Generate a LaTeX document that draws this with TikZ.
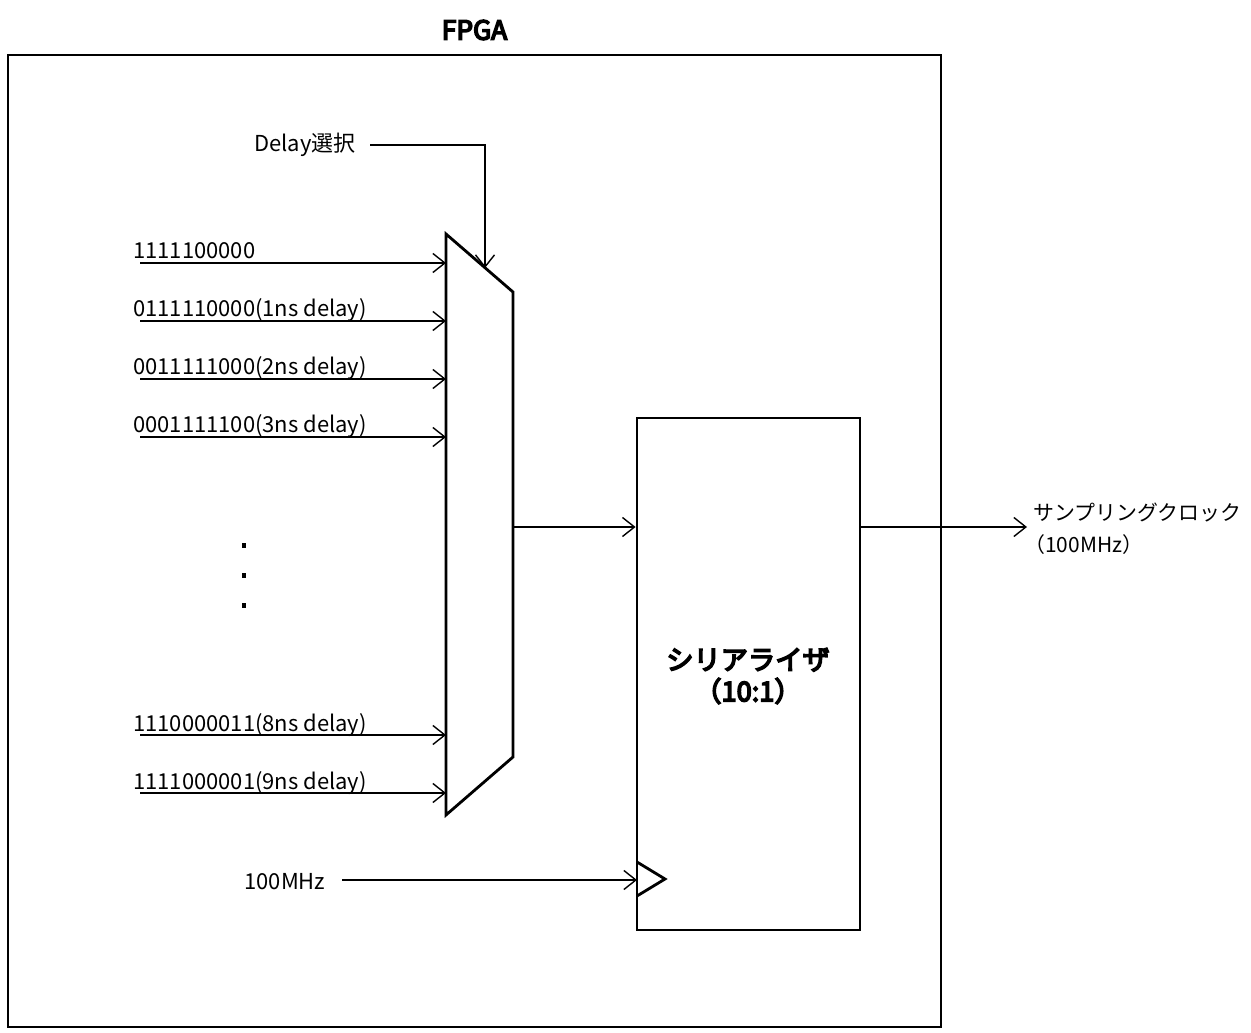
\documentclass[tikz,border=0pt]{standalone}
\usepackage{fontspec}
\setmainfont{Noto Sans CJK JP}
\newcommand\semib[1]{\special{pdf:literal direct 2 Tr 0.9 w}#1\special{pdf:literal direct 0 Tr}}
\usetikzlibrary{arrows.meta,positioning}

\begin{document}
\begin{tikzpicture}[x=0.02cm,y=-0.02cm,>={Straight Barb[length=2.4mm,width=3.8mm]},
boxline/.style={line width=1.6pt},wire/.style={line width=0.8pt},
lbl/.style={font=\fontsize{12.5}{14}\selectfont,inner sep=0pt}]
\useasboundingbox (0,0) rectangle (1251,1033);
\node[draw,boxline,minimum width=18.66cm,minimum height=19.44cm,inner sep=0pt] (fpga) at (474.5,541) {};
\node[font=\fontsize{15}{17}\selectfont,above=1.5mm of fpga] (fpganame) {\semib{FPGA}};
% multiplexer
\coordinate (mtl) at (446,234);\coordinate (mtr) at (513,292);
\coordinate (mbr) at (513,757);\coordinate (mbl) at (446,815);
\draw[boxline] (mtl)--(mtr)--(mbr)--(mbl)--cycle;
\foreach \y/\txt [count=\i] in {263/1111100000,321/0111110000(1ns delay),
379/0011111000(2ns delay),437/0001111100(3ns delay),
735/1110000011(8ns delay),793/1111000001(9ns delay)}{
\node[lbl,anchor=base west] (in\i) at (133,\y-4) {\txt};
\coordinate (s\i) at (140,\y);\coordinate (m\i) at (446,\y);
\draw[wire,->] (s\i)--(m\i);}
\foreach \y in {545,575,605} \fill (242,\y-2) rectangle ++(4,5);
% delay select
\node[lbl] (dsel) at (305,145) {Delay選択};
\coordinate (d0) at (370,145);\coordinate (d1) at (485,268);
\draw[wire,->] (d0)-|(d1);
% serializer
\node[draw,boxline,minimum width=4.46cm,minimum height=10.24cm,inner sep=0pt] (ser) at (748.5,674) {};
\node[font=\fontsize{15.5}{18}\selectfont,align=center] (sername) at (748,676) {\semib{シリアライザ}\\\semib{（10:1）}};
\coordinate (mo) at (513,527);
\draw[wire,->] (mo)--(mo-|ser.west);
\draw[boxline] (637,862)--(665,879) coordinate (ck)--(637,896);
\node[lbl] (clk) at (285,882) {100MHz};
\coordinate (c0) at (342,880);\coordinate (c1) at (637,880);
\draw[wire,->] (c0)--(c1);
% output
\coordinate (out) at (1027,527);
\draw[wire,->] (ser.east|-mo)--(out);
\node[lbl,font=\fontsize{11.9}{13}\selectfont,anchor=south west] (outname) at (1033,522) {サンプリングクロック};
\node[lbl,font=\fontsize{11.9}{13}\selectfont,anchor=north west] (outfreq) at (1024,534) {（100MHz）};
\end{tikzpicture}
\end{document}
